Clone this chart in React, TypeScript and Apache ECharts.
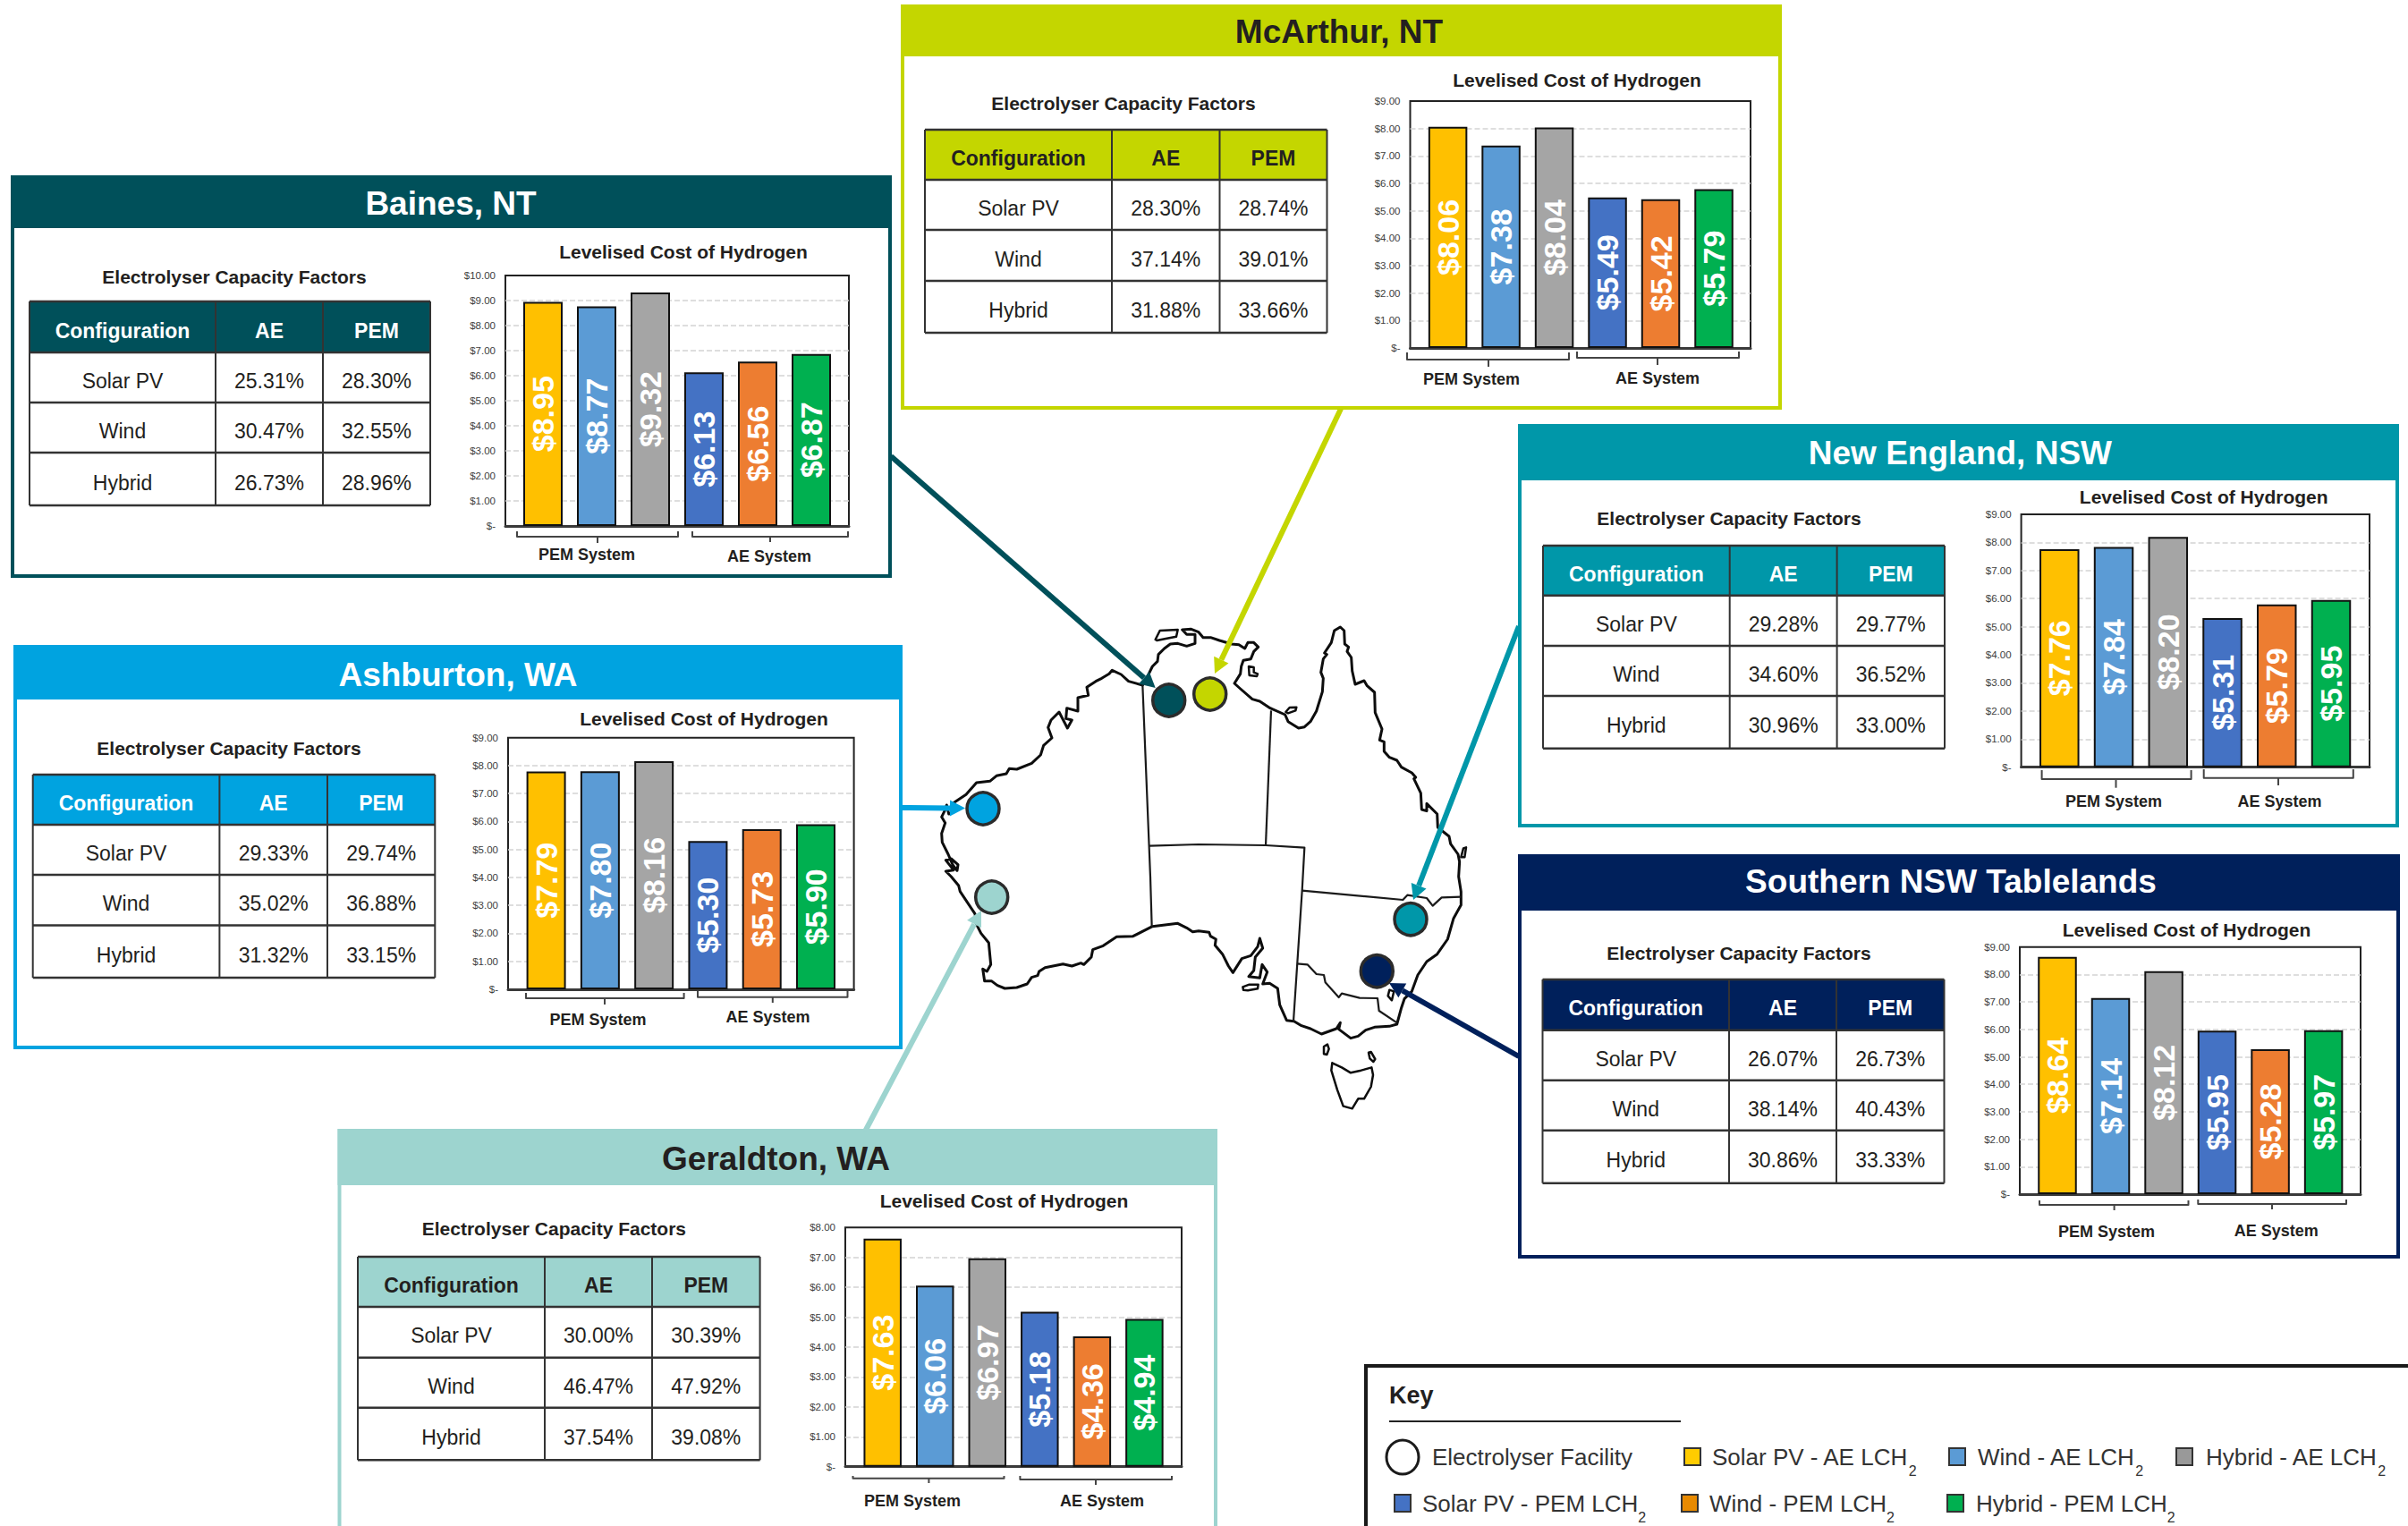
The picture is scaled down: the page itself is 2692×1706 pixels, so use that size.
import React, { useEffect, useRef } from "react";
import * as echarts from "echarts";

const FONT = '"Liberation Sans", Arial, sans-serif';

// ---- Data ----
const configurations = ["Solar PV", "Wind", "Hybrid"];
const tableHeader = ["Configuration", "AE", "PEM"];
const barSeriesNames = ["Solar PV - AE", "Wind - AE", "Hybrid - AE", "Solar PV - PEM", "Wind - PEM", "Hybrid - PEM"];
const barColors = ["#FFC000", "#5B9BD5", "#A5A5A5", "#4472C4", "#ED7D31", "#00B050"];

const bainesLcoh = [8.95, 8.77, 9.32, 6.13, 6.56, 6.87];
const bainesAE = ["25.31%", "30.47%", "26.73%"];
const bainesPEM = ["28.30%", "32.55%", "28.96%"];

const mcarthurLcoh = [8.06, 7.38, 8.04, 5.49, 5.42, 5.79];
const mcarthurAE = ["28.30%", "37.14%", "31.88%"];
const mcarthurPEM = ["28.74%", "39.01%", "33.66%"];

const ashburtonLcoh = [7.79, 7.8, 8.16, 5.3, 5.73, 5.9];
const ashburtonAE = ["29.33%", "35.02%", "31.32%"];
const ashburtonPEM = ["29.74%", "36.88%", "33.15%"];

const newEnglandLcoh = [7.76, 7.84, 8.2, 5.31, 5.79, 5.95];
const newEnglandAE = ["29.28%", "34.60%", "30.96%"];
const newEnglandPEM = ["29.77%", "36.52%", "33.00%"];

const southernLcoh = [8.64, 7.14, 8.12, 5.95, 5.28, 5.97];
const southernAE = ["26.07%", "38.14%", "30.86%"];
const southernPEM = ["26.73%", "40.43%", "33.33%"];

const geraldtonLcoh = [7.63, 6.06, 6.97, 5.18, 4.36, 4.94];
const geraldtonAE = ["30.00%", "46.47%", "37.54%"];
const geraldtonPEM = ["30.39%", "47.92%", "39.08%"];

// ---- Layout ----
const DARK = "#231F20";
const panels = [
  {
    title: "Baines, NT", color: "#00505A", titleColor: "#fff", tableTitleColor: "#fff",
    lcoh: bainesLcoh, ae: bainesAE, pem: bainesPEM, yMax: 10,
    box: [14, 198, 995, 644, 255], titlePos: [504, 227],
    tx: [33, 241, 361, 481], ty: [337, 394, 450, 506, 565], tableTitle: [262, 311], chartTitle: [764, 283],
    plot: [565, 308, 949, 588], centers: [607, 907], barW: 44,
    pemB: [578, 758, 600, 594, 668, 607], aeB: [774, 948, 600, 594, 861, 606],
    pemL: [656, 620], aeL: [860, 622],
  },
  {
    title: "McArthur, NT", color: "#C4D600", titleColor: DARK, tableTitleColor: DARK,
    lcoh: mcarthurLcoh, ae: mcarthurAE, pem: mcarthurPEM, yMax: 9,
    box: [1009, 7, 1990, 456, 63], titlePos: [1497, 35],
    tx: [1034, 1243, 1363.5, 1483.5], ty: [145, 201, 257, 314, 372], tableTitle: [1256, 117], chartTitle: [1763, 91],
    plot: [1576.5, 113, 1957, 389], centers: [1618.6, 1916], barW: 43.5,
    pemB: [1573, 1754, 402, 394, 1664, 410], aeB: [1763, 1944, 400, 393, 1853, 408],
    pemL: [1645, 424], aeL: [1853, 423],
  },
  {
    title: "Ashburton, WA", color: "#00A3E0", titleColor: "#fff", tableTitleColor: "#fff",
    lcoh: ashburtonLcoh, ae: ashburtonAE, pem: ashburtonPEM, yMax: 9,
    box: [17, 723, 1007, 1171, 782], titlePos: [512, 754],
    tx: [36.7, 245.4, 366, 486.3], ty: [866, 922, 978, 1034.5, 1093], tableTitle: [256, 838], chartTitle: [787, 805],
    plot: [568, 824.7, 954.6, 1106], centers: [610.6, 912], barW: 44,
    pemB: [588, 764.6, 1116, 1110, 676, 1123], aeB: [780, 947.5, 1114.7, 1108, 863.8, 1121],
    pemL: [668.6, 1140], aeL: [858.6, 1137],
  },
  {
    title: "New England, NSW", color: "#0097A9", titleColor: "#fff", tableTitleColor: "#fff",
    lcoh: newEnglandLcoh, ae: newEnglandAE, pem: newEnglandPEM, yMax: 9,
    box: [1699, 476, 2680, 923, 537], titlePos: [2191.4, 506.7],
    tx: [1725, 1933.7, 2053.6, 2174], ty: [610, 665.7, 722, 778, 836.7], tableTitle: [1933, 581], chartTitle: [2463.7, 557],
    plot: [2259.6, 575, 2649, 857.7], centers: [2302.3, 2606], barW: 44.5,
    pemB: [2282.6, 2449.6, 871, 861, 2365.5, 880.7], aeB: [2463.7, 2630.8, 869.7, 860, 2547, 878],
    pemL: [2363, 896], aeL: [2548.5, 896],
  },
  {
    title: "Southern NSW Tablelands", color: "#00205B", titleColor: "#fff", tableTitleColor: "#fff",
    lcoh: southernLcoh, ae: southernAE, pem: southernPEM, yMax: 9,
    box: [1699, 957, 2681, 1405, 1018], titlePos: [2181, 985],
    tx: [1724.5, 1933, 2053, 2173.5], ty: [1095, 1151.7, 1207.7, 1263.7, 1322.7], tableTitle: [1944, 1067], chartTitle: [2444.5, 1041],
    plot: [2258, 1058.7, 2639, 1335], centers: [2300, 2597.6], barW: 43.5,
    pemB: [2280, 2446.5, 1347, 1342, 2363.6, 1353], aeB: [2457.3, 2623, 1346, 1341, 2540, 1352],
    pemL: [2355, 1377], aeL: [2544.7, 1376],
  },
  {
    title: "Geraldton, WA", color: "#9DD4CF", titleColor: DARK, tableTitleColor: DARK,
    lcoh: geraldtonLcoh, ae: geraldtonAE, pem: geraldtonPEM, yMax: 8,
    box: [379.5, 1264, 1359, 1760, 1325], titlePos: [867.5, 1295],
    tx: [400, 609, 729, 849.6], ty: [1405, 1461, 1517.7, 1573.7, 1632.3], tableTitle: [619.4, 1375], chartTitle: [1122.5, 1344],
    plot: [945, 1372.3, 1321, 1639.7], centers: [986.7, 1279.4], barW: 42.5,
    pemB: [953.5, 1122.5, 1652.7, 1650, 1038.4, 1658], aeB: [1140.4, 1310, 1654, 1650, 1225, 1660],
    pemL: [1020, 1678], aeL: [1232, 1678],
  },
];

// Markers and leader arrows [circle x, y, line start x, y, tip x, y]
const markers = [
  { color: "#00505A", c: [1306.7, 783], from: [996, 510], to: [1291.7, 769] },
  { color: "#C4D600", c: [1352.7, 776], from: [1499, 457], to: [1358, 753] },
  { color: "#00A3E0", c: [1099, 904], from: [1008, 903], to: [1079, 903.5] },
  { color: "#9DD4CF", c: [1108.7, 1003], from: [967, 1265], to: [1097, 1018] },
  { color: "#0097A9", c: [1577, 1027.7], from: [1698, 700], to: [1580, 1006] },
  { color: "#00205B", c: [1539.3, 1085.7], from: [1698, 1181], to: [1553, 1099] },
];

// ---- Map outline, traced in four quadrants ----
const NW: [number, number] = [1040, 690];
const NE: [number, number] = [1340, 690];
const SW: [number, number] = [1040, 980];
const SE: [number, number] = [1340, 980];
const q = (b: [number, number], flat: number[]) => {
  const out: number[][] = [];
  for (let i = 0; i < flat.length; i += 2) out.push([b[0] + flat[i] / 3, b[1] + flat[i + 1] / 3]);
  return out;
};
const coast = [
  ...q(NW, [712, 228, 728, 200, 745, 165, 762, 148, 765, 125, 785, 105, 805, 90, 830, 88, 860, 97, 888, 88, 888, 58, 860, 58, 845, 42, 875, 40]),
  ...q(NE, [0, 50, 15, 68, 40, 68, 70, 78, 110, 90, 135, 92, 155, 105, 165, 85, 185, 85, 200, 100, 185, 115, 175, 140, 150, 145, 143, 165, 140, 190, 120, 222, 140, 240, 180, 275, 205, 282, 240, 305, 290, 327, 300, 350, 335, 372, 355, 368, 375, 350, 395, 315, 415, 250, 418, 205, 410, 185, 418, 140, 430, 125, 422, 120, 445, 85, 455, 45, 475, 33, 488, 45, 490, 90, 503, 100, 498, 115, 512, 135, 515, 180, 525, 225, 555, 213, 565, 230, 590, 252, 592, 320, 615, 375, 607, 412, 622, 418, 622, 450, 640, 470, 665, 480, 680, 503, 715, 522, 728, 537, 722, 542, 745, 590, 748, 645, 765, 650, 765, 625, 800, 660, 802, 705, 840, 735, 845, 760, 870, 795, 875, 820, 872, 870]),
  ...q(SE, [880, 50, 880, 95, 855, 140, 835, 210, 800, 260, 765, 285, 735, 330, 715, 385, 690, 410, 680, 440, 665, 495, 640, 502, 590, 505, 560, 515, 535, 535, 510, 542, 470, 512, 475, 490, 462, 510, 412, 528, 375, 510, 345, 500, 320, 485, 295, 482, 272, 430, 265, 375, 238, 358, 215, 360, 230, 320, 213, 295, 205, 340, 168, 335, 185, 315, 190, 270, 215, 240, 205, 207, 198, 235, 175, 265, 145, 275, 115, 322, 100, 300, 80, 260, 55, 230, 58, 210, 40, 200, 35, 187, 0, 182]),
  ...q(SW, [880, 185, 860, 172, 830, 157, 745, 167, 680, 200, 625, 202, 580, 232, 545, 245, 540, 270, 515, 295, 505, 290, 475, 300, 445, 293, 385, 305, 365, 318, 360, 332, 340, 338, 325, 360, 290, 372, 250, 375, 225, 365, 205, 350, 182, 350, 176, 310, 190, 318, 203, 295, 196, 222, 170, 190, 155, 160, 150, 125, 100, 50, 95, 30, 70, 0]),
  ...q(NW, [52, 852, 78, 848, 52, 815, 70, 810, 93, 830, 90, 850, 75, 830, 60, 795, 40, 755, 38, 725, 50, 690, 38, 670, 48, 650, 55, 630, 62, 660, 75, 655, 75, 625, 120, 595, 155, 555, 200, 550, 222, 532, 255, 525, 265, 508, 290, 510, 340, 490, 370, 462, 380, 430, 408, 405, 395, 370, 405, 345, 432, 318, 460, 372, 475, 345, 455, 340, 458, 305, 495, 315, 495, 270, 530, 262, 525, 235, 555, 215, 575, 205, 600, 190, 610, 178, 640, 192, 665, 215]),
];
const islands = [
  q(NW, [755, 75, 770, 45, 830, 42, 825, 65, 790, 72, 760, 78]),
  q(NE, [168, 165, 185, 168, 185, 185, 198, 190, 195, 198, 170, 195]),
  q(NE, [292, 318, 305, 303, 328, 302, 325, 313, 300, 322]),
  q(NE, [880, 805, 888, 775, 897, 772, 892, 805]),
  q(SE, [148, 370, 170, 362, 200, 362, 198, 376, 165, 382, 150, 380]),
  q(SE, [420, 570, 432, 563, 437, 578, 430, 597, 420, 595]),
  q(SE, [570, 590, 578, 588, 592, 612, 586, 621, 574, 610]),
  q(SE, [448, 625, 480, 640, 510, 658, 545, 650, 580, 640, 585, 665, 578, 705, 555, 745, 535, 745, 515, 778, 485, 770, 465, 715, 445, 650]),
  q(SE, [640, 380, 655, 385, 648, 415, 635, 400]),
];
const borders = [
  [...q(NW, [712, 228, 738, 870]), ...q(SW, [743, 167])],
  q(NE, [243, 313, 225, 765]),
  [...q(NW, [735, 767]), ...q(NE, [0, 762, 225, 765, 355, 773]), ...q(SE, [347, 47, 318, 485])],
  q(SE, [347, 47, 685, 78, 700, 62, 765, 72, 785, 98, 815, 70, 880, 68]),
  q(SE, [330, 292, 365, 295, 395, 327, 420, 330, 425, 355, 470, 405, 480, 392, 540, 407, 600, 408, 605, 450, 665, 490]),
];

// ---- Key ----
const keyRow1 = [
  { label: "Solar PV - AE LCH", swatch: [1883, 2], color: "#FFCC00", text: 1914 },
  { label: "Wind - AE LCH", swatch: [2179, 2], color: "#5B9BD5", text: 2211 },
  { label: "Hybrid - AE LCH", swatch: [2433, 2], color: "#999999", text: 2466 },
];
const keyRow2 = [
  { label: "Solar PV - PEM LCH", swatch: [1559, 2], color: "#4472C4", text: 1590 },
  { label: "Wind - PEM LCH", swatch: [1880, 2], color: "#E88A00", text: 1911 },
  { label: "Hybrid - PEM LCH", swatch: [2177, 2], color: "#00B050", text: 2209 },
];

const text = (x: number, y: number, t: string, size: number, fill: string, weight = "normal", align = "center", z = 5) => ({
  type: "text", x, y, z, silent: true,
  style: { text: t, fontSize: size, fontWeight: weight, fontFamily: FONT, fill, align, verticalAlign: "middle" },
});
const line = (pts: number[][], stroke: string, lineWidth: number, z = 5) => ({
  type: "polyline", z, silent: true,
  shape: { points: pts },
  style: { stroke, lineWidth, fill: "none", lineJoin: "round", lineCap: "butt" },
});

function buildOption() {
  const grid: any[] = [], xAxis: any[] = [], yAxis: any[] = [], series: any[] = [], elements: any[] = [];

  panels.forEach((p, i) => {
    const [L, T, R, B, H] = p.box;
    // panel frame and header
    elements.push({ type: "rect", z: 1, silent: true, shape: { x: L, y: T, width: R - L, height: B - T }, style: { fill: "none", stroke: p.color, lineWidth: 4 } });
    elements.push({ type: "rect", z: 2, silent: true, shape: { x: L - 2, y: T - 2, width: R - L + 4, height: H - T + 2 }, style: { fill: p.color } });
    elements.push(text(p.titlePos[0], p.titlePos[1], p.title, 37, p.titleColor, "bold"));

    // table
    const [x0, x1, x2, x3] = p.tx;
    const ty = p.ty;
    elements.push(text(p.tableTitle[0], p.tableTitle[1] - 1.5, "Electrolyser Capacity Factors", 21, DARK, "bold"));
    elements.push({ type: "rect", z: 2, silent: true, shape: { x: x0, y: ty[0], width: x3 - x0, height: ty[1] - ty[0] }, style: { fill: p.color } });
    ty.forEach((y) => elements.push(line([[x0, y], [x3, y]], "#333", 2.5, 3)));
    p.tx.forEach((x) => elements.push(line([[x, ty[0]], [x, ty[4]]], "#333", 2, 3)));
    const mids = [(x0 + x1) / 2, (x1 + x2) / 2, (x2 + x3) / 2];
    tableHeader.forEach((h, c) => elements.push(text(mids[c], (ty[0] + ty[1]) / 2 + 4, h, 23, p.tableTitleColor, "bold")));
    configurations.forEach((cfg, r) => {
      const y = (ty[r + 1] + ty[r + 2]) / 2 + 4;
      elements.push(text(mids[0], y, cfg, 23, DARK));
      elements.push(text(mids[1], y, p.ae[r], 23, DARK));
      elements.push(text(mids[2], y, p.pem[r], 23, DARK));
    });

    // chart
    const [pL, pT, pR, pB] = p.plot;
    elements.push(text(p.chartTitle[0], p.chartTitle[1] - 1.5, "Levelised Cost of Hydrogen", 21, DARK, "bold"));
    const pitch = (p.centers[1] - p.centers[0]) / 5;
    grid.push({ left: pL, top: pT, width: pR - pL, height: pB - pT, show: true, borderColor: "#222", borderWidth: 2, backgroundColor: "transparent" });
    xAxis.push({
      type: "value", gridIndex: i,
      min: -(p.centers[0] - pL) / pitch,
      max: 5 + (pR - p.centers[1]) / pitch,
      axisLabel: { show: false }, axisTick: { show: false }, splitLine: { show: false },
      axisLine: { show: true, onZero: false, lineStyle: { color: "#3a3a3a", width: 3 } },
    });
    yAxis.push({
      type: "value", gridIndex: i, min: 0, max: p.yMax, interval: 1,
      axisLine: { show: false }, axisTick: { show: false },
      splitLine: { show: true, showMinLine: false, showMaxLine: false, lineStyle: { color: "#d4d4d4", type: "dashed", width: 1.5 } },
      axisLabel: {
        color: "#404040", fontSize: 11.5, fontFamily: FONT, margin: 11,
        formatter: (v: number) => (v === 0 ? "$-" : "$" + v.toFixed(2)),
      },
    });
    series.push({
      type: "bar", name: p.title, xAxisIndex: i, yAxisIndex: i, barWidth: p.barW,
      data: p.lcoh.map((v, k) => ({
        name: barSeriesNames[k], value: [k, v],
        itemStyle: { color: barColors[k], borderColor: "#111", borderWidth: 2 },
      })),
      label: {
        show: true, position: "inside", rotate: 90, color: "#fff", fontSize: 34, fontWeight: "bold", fontFamily: FONT,
        formatter: (o: any) => "$" + o.value[1].toFixed(2),
      },
    });

    // system brackets
    [[p.pemB, p.pemL, "PEM System"], [p.aeB, p.aeL, "AE System"]].forEach(([b, l, name]: any) => {
      elements.push(line([[b[0], b[3]], [b[0], b[2]], [b[1], b[2]], [b[1], b[3]]], "#444", 2));
      elements.push(line([[b[4], b[2]], [b[4], b[5]]], "#444", 2));
      elements.push(text(l[0], l[1], name, 18, DARK, "bold"));
    });
  });

  // map
  elements.push({ type: "polygon", z: 1, silent: true, shape: { points: coast }, style: { fill: "#fff", stroke: "#0d0d0d", lineWidth: 3, lineJoin: "round" } });
  islands.forEach((pts) => elements.push({ type: "polygon", z: 1, silent: true, shape: { points: pts }, style: { fill: "#fff", stroke: "#0d0d0d", lineWidth: 2.5, lineJoin: "round" } }));
  borders.forEach((pts) => elements.push(line(pts, "#1a1a1a", 2.2, 2)));

  // leaders and markers
  markers.forEach((m) => {
    const dx = m.to[0] - m.from[0], dy = m.to[1] - m.from[1];
    const len = Math.hypot(dx, dy), ux = dx / len, uy = dy / len;
    const head = 17, half = 9;
    const bx = m.to[0] - ux * head, by = m.to[1] - uy * head;
    elements.push(line([m.from, [bx, by]], m.color, 6, 6));
    elements.push({
      type: "polygon", z: 6, silent: true,
      shape: { points: [m.to, [bx - uy * half, by + ux * half], [bx + uy * half, by - ux * half]] },
      style: { fill: m.color },
    });
    elements.push({ type: "circle", z: 7, silent: true, shape: { cx: m.c[0], cy: m.c[1], r: 18 }, style: { fill: m.color, stroke: "#2b2b2b", lineWidth: 3.5 } });
  });

  // key
  const row1Y = 1629, row2Y = 1681;
  elements.push({ type: "rect", z: 5, silent: true, shape: { x: 1527, y: 1527, width: 1300, height: 400 }, style: { fill: "none", stroke: "#1a1a1a", lineWidth: 4 } });
  elements.push(text(1553, 1560, "Key", 27, DARK, "bold", "left"));
  elements.push(line([[1553, 1589], [1879, 1589]], "#222", 2));
  elements.push({ type: "ellipse", z: 5, silent: true, shape: { cx: 1568, cy: row1Y, rx: 18, ry: 19 }, style: { fill: "#fff", stroke: "#1a1a1a", lineWidth: 3 } });
  elements.push(text(1601, row1Y, "Electrolyser Facility", 26, "#333", "normal", "left"));
  const keyItem = (it: any, y: number) => {
    elements.push({ type: "rect", z: 5, silent: true, shape: { x: it.swatch[0], y: y - 10, width: 18, height: 19 }, style: { fill: it.color, stroke: "#333", lineWidth: it.swatch[1] } });
    elements.push({
      type: "text", x: it.text, y: y + 5, z: 5, silent: true,
      style: {
        text: "{b|" + it.label + "}{s|2}", align: "left", verticalAlign: "middle",
        rich: {
          b: { fontSize: 26, fontFamily: FONT, fill: "#333", lineHeight: 36, verticalAlign: "top" },
          s: { fontSize: 16, fontFamily: FONT, fill: "#333", lineHeight: 36, verticalAlign: "bottom" },
        },
      },
    });
  };
  keyRow1.forEach((it) => keyItem(it, row1Y));
  keyRow2.forEach((it) => keyItem(it, row2Y));

  return { animation: false, backgroundColor: "#fff", grid, xAxis, yAxis, series, graphic: { elements } };
}

export default function App() {
  const ref = useRef<HTMLDivElement>(null);
  useEffect(() => {
    document.body.style.margin = "0";
    document.body.style.overflow = "hidden";
    const chart = echarts.init(ref.current!, undefined, { renderer: "svg" });
    chart.setOption(buildOption() as any);
    return () => chart.dispose();
  }, []);
  return <div ref={ref} style={{ width: 2692, height: 1706 }} />;
}
